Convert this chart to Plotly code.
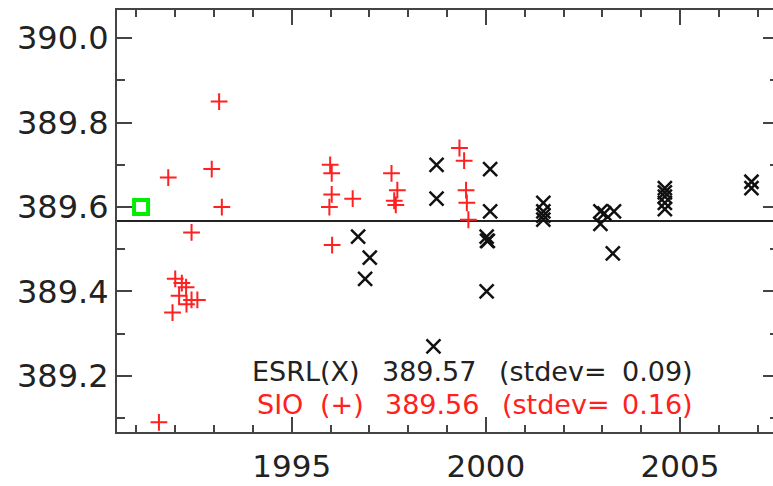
import plotly.graph_objects as go

# ---- data ----
sio_year = [1991.58, 1991.82, 1991.93, 1992.00, 1992.10, 1992.17, 1992.28, 1992.29,
            1992.42, 1992.57, 1992.42, 1992.94, 1993.13, 1993.20,
            1995.97, 1995.99, 1996.03, 1996.03, 1996.04, 1996.57,
            1997.57, 1997.72, 1997.64, 1997.68,
            1999.32, 1999.44, 1999.49, 1999.51, 1999.55]
sio_co2 = [389.09, 389.67, 389.35, 389.43, 389.39, 389.42, 389.41, 389.37,
           389.38, 389.38, 389.54, 389.69, 389.85, 389.60,
           389.60, 389.70, 389.68, 389.63, 389.51, 389.62,
           389.68, 389.64, 389.615, 389.605,
           389.74, 389.71, 389.64, 389.61, 389.57]

esrl_year = [1996.71, 1997.01, 1996.89, 1998.73, 1998.73, 1998.65,
             2000.11, 2000.11, 2000.02, 2000.05, 2000.03, 2000.02,
             2001.48, 2001.48, 2001.48, 2001.48,
             2002.95, 2003.05, 2003.30, 2002.95, 2003.27,
             2004.61, 2004.61, 2004.61, 2004.61, 2004.61,
             2006.84, 2006.84]
esrl_co2 = [389.53, 389.48, 389.43, 389.70, 389.62, 389.27,
            389.69, 389.59, 389.53, 389.52, 389.52, 389.40,
            389.61, 389.59, 389.58, 389.57,
            389.59, 389.585, 389.59, 389.56, 389.49,
            389.645, 389.635, 389.625, 389.61, 389.595,
            389.66, 389.645]

ref_year = [1991.12]
ref_co2 = [389.60]

esrl_mean = 389.567

line1_parts = ["ESRL(X)", "389.57", "(stdev=", "0.09)"]
line2_parts = ["SIO", "(+)", "389.56", "(stdev=", "0.16)"]

X_RANGE = [1990.5, 2007.395]
Y_RANGE = [389.067, 390.067]

AX = "#444444"
FONT = "DejaVu Sans"

fig = go.Figure()

fig.add_trace(go.Scatter(
    x=X_RANGE, y=[esrl_mean, esrl_mean], mode="lines",
    line=dict(color="#222222", width=2), hoverinfo="skip", showlegend=False))

fig.add_trace(go.Scatter(
    x=sio_year, y=sio_co2, mode="markers", showlegend=False,
    marker=dict(symbol="cross-thin", size=12, color="#ff2020",
                line=dict(color="#ff2020", width=2))))

fig.add_trace(go.Scatter(
    x=esrl_year, y=esrl_co2, mode="markers", showlegend=False,
    marker=dict(symbol="x-thin", size=14, color="#111111",
                line=dict(color="#111111", width=2.5))))

fig.add_trace(go.Scatter(
    x=ref_year, y=ref_co2, mode="markers", showlegend=False, yaxis="y2",
    marker=dict(symbol="square-open", size=14, color="#00ee00",
                line=dict(color="#00ee00", width=4))))

# text annotations (paper coords)
def px_x(px):
    return (px - 117) / 656.0

def px_y(py):
    return (432 - py) / 422.0

x1_pos = [250, 380, 497, 620]
x2_pos = [255, 318, 383, 500, 620]
for t, xp in zip(line1_parts, x1_pos):
    fig.add_annotation(text=t, xref="paper", yref="paper", x=px_x(xp), y=px_y(371),
                       xanchor="left", yanchor="middle", showarrow=False,
                       font=dict(family=FONT, size=27, color="#222222"))
for t, xp in zip(line2_parts, x2_pos):
    fig.add_annotation(text=t, xref="paper", yref="paper", x=px_x(xp), y=px_y(404),
                       xanchor="left", yanchor="middle", showarrow=False,
                       font=dict(family=FONT, size=27, color="#ff2020"))

fig.update_layout(
    width=773, height=486,
    margin=dict(l=117, r=0, t=10, b=54),
    paper_bgcolor="white", plot_bgcolor="white",
    font=dict(family=FONT, color="#222222"),
    xaxis=dict(range=X_RANGE, showline=True, linecolor=AX, linewidth=2,
               mirror="ticks", ticks="inside", ticklen=15, tickwidth=2, tickcolor=AX,
               tick0=1995, dtick=5, showgrid=False, zeroline=False,
               ticklabelstandoff=6,
               tickfont=dict(size=31, color="#222222"),
               minor=dict(ticks="inside", ticklen=7, tickwidth=2, tickcolor=AX,
                          dtick=1, tick0=1995, showgrid=False)),
    yaxis=dict(range=Y_RANGE, showline=True, linecolor=AX, linewidth=2,
               ticks="inside", ticklen=15, tickwidth=2, tickcolor=AX,
               tick0=389.0, dtick=0.2, tickformat=".1f",
               showgrid=False, zeroline=False,
               tickfont=dict(size=32, color="#222222"),
               minor=dict(ticks="inside", ticklen=8, tickwidth=2, tickcolor=AX,
                          dtick=0.1, tick0=389.0, showgrid=False)),
    yaxis2=dict(range=Y_RANGE, overlaying="y", side="right", anchor="free", position=1,
                showline=False, showticklabels=False, showgrid=False, zeroline=False,
                ticks="inside", ticklen=10, tickwidth=2, tickcolor=AX,
                tick0=389.0, dtick=0.2,
                minor=dict(ticks="inside", ticklen=3, tickwidth=2, tickcolor=AX,
                           dtick=0.1, tick0=389.0, showgrid=False)),
)

fig.write_html("out.html")
